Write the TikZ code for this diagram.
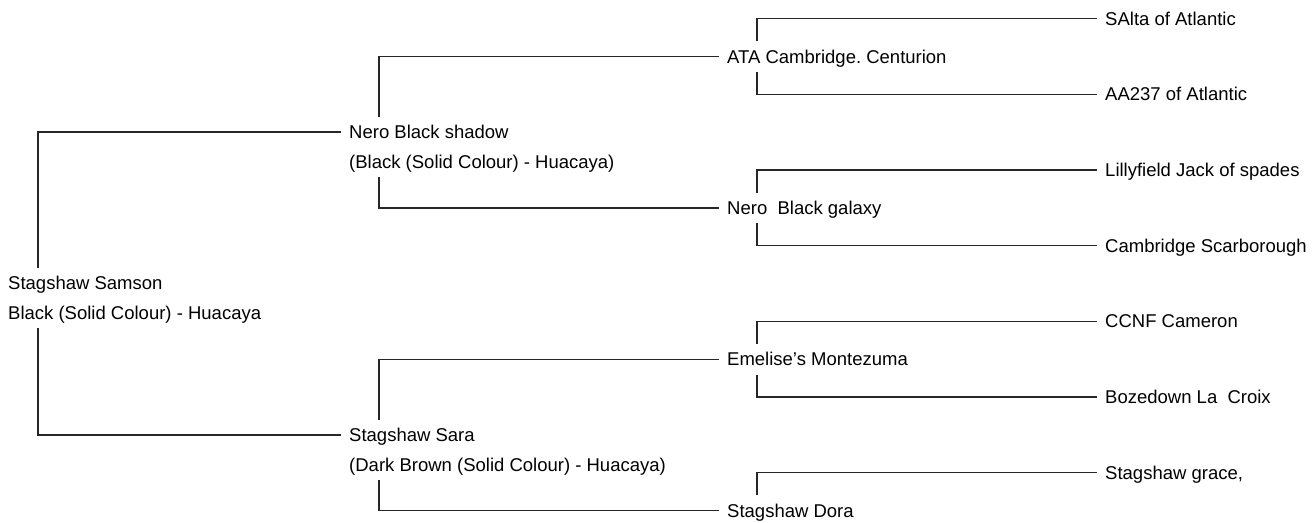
\documentclass[tikz,border=0pt]{standalone}
\usepackage{fontspec}
\setmainfont{Liberation Sans}
\frenchspacing
\begin{document}
\begin{tikzpicture}[x=1pt,y=-1pt,
  person/.style={anchor=west, inner xsep=8pt, inner ysep=8.4pt,
    text height=13.2pt, text depth=0pt,
    font=\fontsize{18.5pt}{22pt}\selectfont},
  link/.style={draw=black!85, line width=1.4pt}]
\useasboundingbox (0,0) rectangle (1313,522);
% generation 1
\node[person] (samson) at (0,283) {Stagshaw Samson};
\node[person] (samsonsub) at (0,313) {Black (Solid Colour) - Huacaya};
% generation 2
\node[person] (nero) at (341,132) {Nero Black shadow};
\node[person] (nerosub) at (341,162) {(Black (Solid Colour) - Huacaya)};
\node[person] (sara) at (341,435) {Stagshaw Sara};
\node[person] (sarasub) at (341,465) {(Dark Brown (Solid Colour) - Huacaya)};
% generation 3
\node[person] (ata) at (719,56.5) {ATA Cambridge. Centurion};
\node[person] (galaxy) at (719,208) {Nero~ Black galaxy};
\node[person] (emelise) at (719,359.3) {Emelise’s Montezuma};
\node[person] (dora) at (719,510.5) {Stagshaw Dora};
% generation 4
\node[person] (salta) at (1097,18.5) {SAlta of Atlantic};
\node[person] (aa) at (1097,94.2) {AA237 of Atlantic};
\node[person] (lilly) at (1097,169.9) {Lillyfield Jack of spades};
\node[person] (scar) at (1097,245.6) {Cambridge Scarborough};
\node[person] (ccnf) at (1097,321.3) {CCNF Cameron};
\node[person] (boze) at (1097,397) {Bozedown La~ Croix};
\node[person] (grace) at (1097,472.7) {Stagshaw grace,};
% connectors
\draw[link] ([xshift=38pt]samson.north west) |- (nero.west);
\draw[link] ([xshift=38pt]samsonsub.south west) |- (sara.west);
\draw[link] ([xshift=38pt]nero.north west) |- (ata.west);
\draw[link] ([xshift=38pt]nerosub.south west) |- (galaxy.west);
\draw[link] ([xshift=38pt]sara.north west) |- (emelise.west);
\draw[link] ([xshift=38pt]sarasub.south west) |- (dora.west);
\draw[link] ([xshift=38pt]ata.north west) |- (salta.west);
\draw[link] ([xshift=38pt]ata.south west) |- (aa.west);
\draw[link] ([xshift=38pt]galaxy.north west) |- (lilly.west);
\draw[link] ([xshift=38pt]galaxy.south west) |- (scar.west);
\draw[link] ([xshift=38pt]emelise.north west) |- (ccnf.west);
\draw[link] ([xshift=38pt]emelise.south west) |- (boze.west);
\draw[link] ([xshift=38pt]dora.north west) |- (grace.west);
\end{tikzpicture}
\end{document}
